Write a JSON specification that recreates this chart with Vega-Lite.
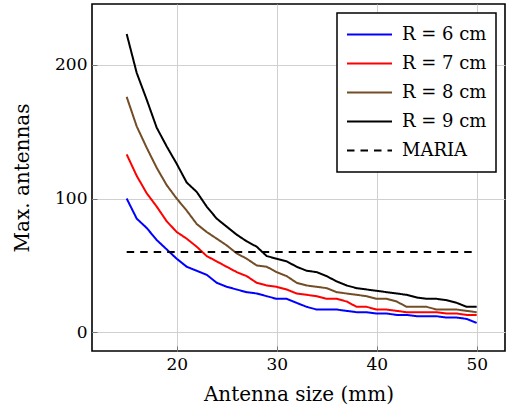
{
  "$schema": "https://vega.github.io/schema/vega-lite/v6.json",
  "width": 413,
  "height": 347,
  "autosize": {"type": "none"},
  "padding": {"left": 92, "top": 4, "right": 1, "bottom": 66},
  "background": "white",
  "view": {"stroke": "black", "strokeWidth": 1.6},
  "config": {
    "font": "DejaVu Serif",
    "axis": {
      "domain": false,
      "grid": true,
      "gridColor": "#d0d0d0",
      "gridWidth": 1,
      "tickSize": -5,
      "tickColor": "#777777",
      "tickWidth": 1,
      "labelFont": "DejaVu Serif",
      "labelFontSize": 17,
      "labelColor": "black",
      "titleFont": "DejaVu Serif",
      "titleFontSize": 20,
      "titleFontWeight": "normal",
      "titleColor": "black"
    },
    "legend": {
      "orient": "none",
      "legendX": 245,
      "legendY": 9,
      "strokeColor": "black",
      "strokeWidth": 1.5,
      "fillColor": "white",
      "padding": 9,
      "symbolType": "stroke",
      "symbolSize": 2025,
      "symbolStrokeWidth": 2,
      "labelFont": "DejaVu Serif",
      "labelFontSize": 18,
      "labelColor": "black",
      "labelOffset": 9,
      "clipHeight": 25,
      "rowPadding": 4
    }
  },
  "data": {
    "values": [
      {"s": "R = 6 cm", "x": 15, "y": 100}, {"s": "R = 6 cm", "x": 16, "y": 85}, {"s": "R = 6 cm", "x": 17, "y": 78}, {"s": "R = 6 cm", "x": 18, "y": 69}, {"s": "R = 6 cm", "x": 19, "y": 62}, {"s": "R = 6 cm", "x": 20, "y": 55}, {"s": "R = 6 cm", "x": 21, "y": 49}, {"s": "R = 6 cm", "x": 22, "y": 46}, {"s": "R = 6 cm", "x": 23, "y": 43}, {"s": "R = 6 cm", "x": 24, "y": 37}, {"s": "R = 6 cm", "x": 25, "y": 34}, {"s": "R = 6 cm", "x": 26, "y": 32}, {"s": "R = 6 cm", "x": 27, "y": 30}, {"s": "R = 6 cm", "x": 28, "y": 29}, {"s": "R = 6 cm", "x": 29, "y": 27}, {"s": "R = 6 cm", "x": 30, "y": 25}, {"s": "R = 6 cm", "x": 31, "y": 25}, {"s": "R = 6 cm", "x": 32, "y": 22}, {"s": "R = 6 cm", "x": 33, "y": 19}, {"s": "R = 6 cm", "x": 34, "y": 17}, {"s": "R = 6 cm", "x": 35, "y": 17}, {"s": "R = 6 cm", "x": 36, "y": 17}, {"s": "R = 6 cm", "x": 37, "y": 16}, {"s": "R = 6 cm", "x": 38, "y": 15}, {"s": "R = 6 cm", "x": 39, "y": 15}, {"s": "R = 6 cm", "x": 40, "y": 14}, {"s": "R = 6 cm", "x": 41, "y": 14}, {"s": "R = 6 cm", "x": 42, "y": 13}, {"s": "R = 6 cm", "x": 43, "y": 13}, {"s": "R = 6 cm", "x": 44, "y": 12}, {"s": "R = 6 cm", "x": 45, "y": 12}, {"s": "R = 6 cm", "x": 46, "y": 12}, {"s": "R = 6 cm", "x": 47, "y": 11}, {"s": "R = 6 cm", "x": 48, "y": 11}, {"s": "R = 6 cm", "x": 49, "y": 10}, {"s": "R = 6 cm", "x": 50, "y": 7},
      {"s": "R = 7 cm", "x": 15, "y": 133}, {"s": "R = 7 cm", "x": 16, "y": 117}, {"s": "R = 7 cm", "x": 17, "y": 104}, {"s": "R = 7 cm", "x": 18, "y": 94}, {"s": "R = 7 cm", "x": 19, "y": 83}, {"s": "R = 7 cm", "x": 20, "y": 75}, {"s": "R = 7 cm", "x": 21, "y": 70}, {"s": "R = 7 cm", "x": 22, "y": 64}, {"s": "R = 7 cm", "x": 23, "y": 57}, {"s": "R = 7 cm", "x": 24, "y": 53}, {"s": "R = 7 cm", "x": 25, "y": 49}, {"s": "R = 7 cm", "x": 26, "y": 45}, {"s": "R = 7 cm", "x": 27, "y": 42}, {"s": "R = 7 cm", "x": 28, "y": 37}, {"s": "R = 7 cm", "x": 29, "y": 35}, {"s": "R = 7 cm", "x": 30, "y": 34}, {"s": "R = 7 cm", "x": 31, "y": 32}, {"s": "R = 7 cm", "x": 32, "y": 29}, {"s": "R = 7 cm", "x": 33, "y": 28}, {"s": "R = 7 cm", "x": 34, "y": 27}, {"s": "R = 7 cm", "x": 35, "y": 25}, {"s": "R = 7 cm", "x": 36, "y": 25}, {"s": "R = 7 cm", "x": 37, "y": 23}, {"s": "R = 7 cm", "x": 38, "y": 19}, {"s": "R = 7 cm", "x": 39, "y": 19}, {"s": "R = 7 cm", "x": 40, "y": 17}, {"s": "R = 7 cm", "x": 41, "y": 17}, {"s": "R = 7 cm", "x": 42, "y": 16}, {"s": "R = 7 cm", "x": 43, "y": 15}, {"s": "R = 7 cm", "x": 44, "y": 15}, {"s": "R = 7 cm", "x": 45, "y": 15}, {"s": "R = 7 cm", "x": 46, "y": 15}, {"s": "R = 7 cm", "x": 47, "y": 14}, {"s": "R = 7 cm", "x": 48, "y": 14}, {"s": "R = 7 cm", "x": 49, "y": 13}, {"s": "R = 7 cm", "x": 50, "y": 13},
      {"s": "R = 8 cm", "x": 15, "y": 176}, {"s": "R = 8 cm", "x": 16, "y": 154}, {"s": "R = 8 cm", "x": 17, "y": 138}, {"s": "R = 8 cm", "x": 18, "y": 123}, {"s": "R = 8 cm", "x": 19, "y": 110}, {"s": "R = 8 cm", "x": 20, "y": 100}, {"s": "R = 8 cm", "x": 21, "y": 91}, {"s": "R = 8 cm", "x": 22, "y": 81}, {"s": "R = 8 cm", "x": 23, "y": 75}, {"s": "R = 8 cm", "x": 24, "y": 70}, {"s": "R = 8 cm", "x": 25, "y": 65}, {"s": "R = 8 cm", "x": 26, "y": 59}, {"s": "R = 8 cm", "x": 27, "y": 55}, {"s": "R = 8 cm", "x": 28, "y": 50}, {"s": "R = 8 cm", "x": 29, "y": 49}, {"s": "R = 8 cm", "x": 30, "y": 45}, {"s": "R = 8 cm", "x": 31, "y": 42}, {"s": "R = 8 cm", "x": 32, "y": 37}, {"s": "R = 8 cm", "x": 33, "y": 35}, {"s": "R = 8 cm", "x": 34, "y": 34}, {"s": "R = 8 cm", "x": 35, "y": 33}, {"s": "R = 8 cm", "x": 36, "y": 30}, {"s": "R = 8 cm", "x": 37, "y": 29}, {"s": "R = 8 cm", "x": 38, "y": 28}, {"s": "R = 8 cm", "x": 39, "y": 27}, {"s": "R = 8 cm", "x": 40, "y": 25}, {"s": "R = 8 cm", "x": 41, "y": 25}, {"s": "R = 8 cm", "x": 42, "y": 23}, {"s": "R = 8 cm", "x": 43, "y": 19}, {"s": "R = 8 cm", "x": 44, "y": 19}, {"s": "R = 8 cm", "x": 45, "y": 19}, {"s": "R = 8 cm", "x": 46, "y": 17}, {"s": "R = 8 cm", "x": 47, "y": 17}, {"s": "R = 8 cm", "x": 48, "y": 17}, {"s": "R = 8 cm", "x": 49, "y": 16}, {"s": "R = 8 cm", "x": 50, "y": 15},
      {"s": "R = 9 cm", "x": 15, "y": 223}, {"s": "R = 9 cm", "x": 16, "y": 194}, {"s": "R = 9 cm", "x": 17, "y": 174}, {"s": "R = 9 cm", "x": 18, "y": 153}, {"s": "R = 9 cm", "x": 19, "y": 139}, {"s": "R = 9 cm", "x": 20, "y": 126}, {"s": "R = 9 cm", "x": 21, "y": 112}, {"s": "R = 9 cm", "x": 22, "y": 105}, {"s": "R = 9 cm", "x": 23, "y": 94}, {"s": "R = 9 cm", "x": 24, "y": 85}, {"s": "R = 9 cm", "x": 25, "y": 79}, {"s": "R = 9 cm", "x": 26, "y": 73}, {"s": "R = 9 cm", "x": 27, "y": 68}, {"s": "R = 9 cm", "x": 28, "y": 64}, {"s": "R = 9 cm", "x": 29, "y": 57}, {"s": "R = 9 cm", "x": 30, "y": 55}, {"s": "R = 9 cm", "x": 31, "y": 53}, {"s": "R = 9 cm", "x": 32, "y": 49}, {"s": "R = 9 cm", "x": 33, "y": 46}, {"s": "R = 9 cm", "x": 34, "y": 45}, {"s": "R = 9 cm", "x": 35, "y": 42}, {"s": "R = 9 cm", "x": 36, "y": 38}, {"s": "R = 9 cm", "x": 37, "y": 35}, {"s": "R = 9 cm", "x": 38, "y": 33}, {"s": "R = 9 cm", "x": 39, "y": 32}, {"s": "R = 9 cm", "x": 40, "y": 31}, {"s": "R = 9 cm", "x": 41, "y": 30}, {"s": "R = 9 cm", "x": 42, "y": 29}, {"s": "R = 9 cm", "x": 43, "y": 28}, {"s": "R = 9 cm", "x": 44, "y": 26}, {"s": "R = 9 cm", "x": 45, "y": 25}, {"s": "R = 9 cm", "x": 46, "y": 25}, {"s": "R = 9 cm", "x": 47, "y": 24}, {"s": "R = 9 cm", "x": 48, "y": 22}, {"s": "R = 9 cm", "x": 49, "y": 19}, {"s": "R = 9 cm", "x": 50, "y": 19},
      {"s": "MARIA", "x": 15, "y": 60}, {"s": "MARIA", "x": 50, "y": 60}
    ]
  },
  "mark": {"type": "line", "strokeWidth": 2, "clip": true},
  "encoding": {
    "x": {
      "field": "x", "type": "quantitative",
      "scale": {"domain": [11.53, 52.83], "nice": false, "zero": false},
      "axis": {"values": [20, 30, 40, 50], "title": "Antenna size (mm)", "labelPadding": 10, "titlePadding": 12}
    },
    "y": {
      "field": "y", "type": "quantitative",
      "scale": {"domain": [-14, 245.5], "nice": false, "zero": false},
      "axis": {"values": [0, 100, 200], "title": "Max. antennas", "labelPadding": 10, "titlePadding": 22}
    },
    "color": {
      "field": "s", "type": "nominal",
      "scale": {
        "domain": ["R = 6 cm", "R = 7 cm", "R = 8 cm", "R = 9 cm", "MARIA"],
        "range": ["#0000ff", "#ff0000", "#734d26", "#000000", "#000000"]
      },
      "legend": {"title": null}
    },
    "strokeDash": {
      "field": "s", "type": "nominal",
      "scale": {
        "domain": ["R = 6 cm", "R = 7 cm", "R = 8 cm", "R = 9 cm", "MARIA"],
        "range": [[1, 0], [1, 0], [1, 0], [1, 0], [7.5, 6]]
      },
      "legend": {"title": null}
    }
  }
}
